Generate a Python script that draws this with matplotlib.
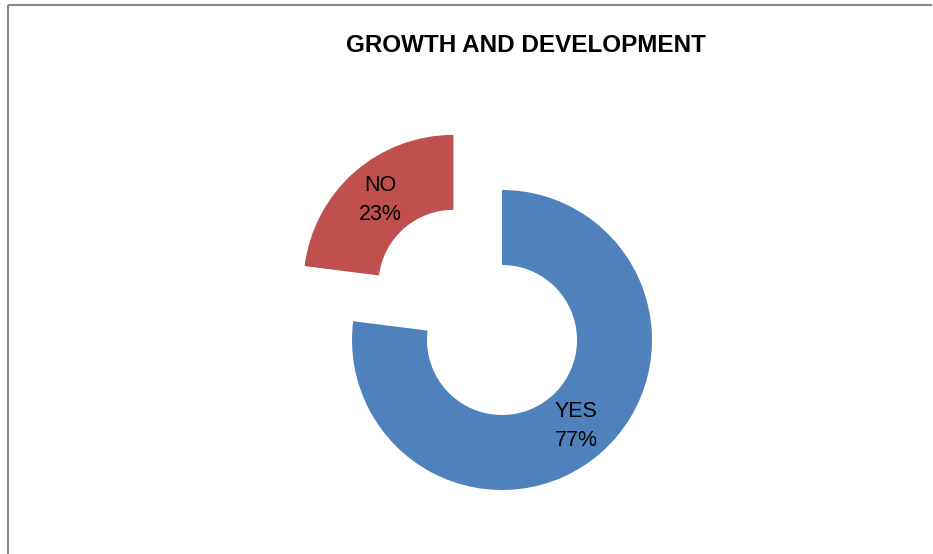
import matplotlib.pyplot as plt

labels = ["YES", "NO"]
shares = [77, 23]
colors = ["#4F81BD", "#C0504D"]
explode = [0.0, 0.49]  # fraction of the outer radius

W, H = 933, 554
R = 150
fig = plt.figure(figsize=(W / 100, H / 100), dpi=100)
ax = fig.add_axes([0, 0, 1, 1])

# donut in pixel coordinates, y measured upward; pie's explode is in data units
ax.pie(shares, colors=colors, explode=[e * R for e in explode], startangle=90,
       counterclock=False, radius=R, center=(502, H - 340), frame=True,
       wedgeprops=dict(width=R / 2, linewidth=0))
ax.set_xlim(0, W)
ax.set_ylim(0, H)
ax.set_aspect("equal")
ax.axis("off")

font = "Liberation Sans"
ax.text(576, H - 426, f"{labels[0]}\n{shares[0]}%", ha="center", va="center",
        fontsize=15.5, family=font, linespacing=1.5)
ax.text(380, H - 200, f"{labels[1]}\n{shares[1]}%", ha="center", va="center",
        fontsize=15.5, family=font, linespacing=1.5)

ax.text(526, H - 45, "GROWTH AND DEVELOPMENT", ha="center", va="center",
        fontsize=17.5, fontweight="bold", family=font)

# chart area border (left and top edges visible)
ax.plot([8, 8], [0, H - 5], color="#888888", lw=1.5, solid_capstyle="butt")
ax.plot([8, 932], [H - 5, H - 5], color="#888888", lw=1.5, solid_capstyle="butt")

fig.savefig("out.png", dpi=100)
